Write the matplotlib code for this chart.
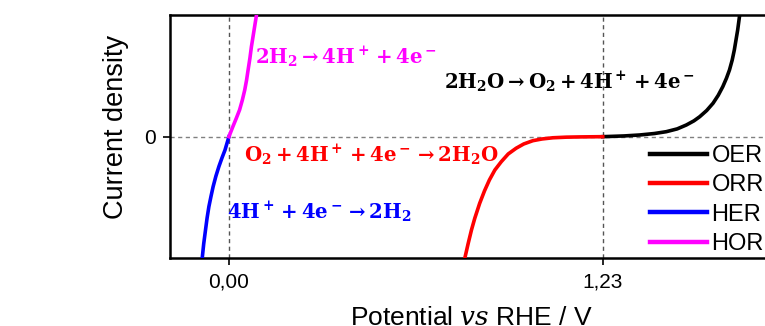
import matplotlib

matplotlib.use("Agg")
import matplotlib.pyplot as plt

plt.rcParams["font.family"] = ["Liberation Sans", "DejaVu Sans"]
plt.rcParams["mathtext.fontset"] = "dejavuserif"

# curves (potential in V, current density normalised to the axis)
her_x = [-0.088, -0.083, -0.077, -0.072, -0.066, -0.059, -0.052, -0.043, -0.033,
         -0.023, -0.013, 0.0]
her_y = [-1.0, -0.88, -0.765, -0.67, -0.575, -0.49, -0.41, -0.325, -0.245,
         -0.175, -0.11, 0.0]

hor_x = [0.0, 0.013, 0.024, 0.035, 0.044, 0.052, 0.058, 0.063, 0.069, 0.074,
         0.082, 0.090]
hor_y = [0.0, 0.083, 0.15, 0.22, 0.30, 0.384, 0.465, 0.548, 0.645, 0.74,
         0.865, 0.99]

orr_x = [0.776, 0.787, 0.798, 0.809, 0.825, 0.841, 0.857, 0.875, 0.896, 0.919,
         0.945, 0.970, 1.000, 1.030, 1.066, 1.11, 1.154, 1.19, 1.23]
orr_y = [-1.0, -0.88, -0.767, -0.67, -0.548, -0.445, -0.356, -0.274, -0.206,
         -0.142, -0.095, -0.06, -0.033, -0.019, -0.009, -0.004, -0.002, -0.001, 0.0]

oer_x = [1.23, 1.30, 1.352, 1.40, 1.439, 1.475, 1.505, 1.53, 1.549, 1.572,
         1.593, 1.61, 1.625, 1.637, 1.647, 1.656, 1.663, 1.674, 1.680]
oer_y = [0.0, 0.006, 0.014, 0.026, 0.041, 0.064, 0.096, 0.13, 0.164, 0.215,
         0.275, 0.34, 0.411, 0.48, 0.548, 0.63, 0.713, 0.877, 0.989]

tick_pos = [0.0, 1.23]
tick_labels = ["0,00", "1,23"]

fig = plt.figure(figsize=(7.65, 3.26), dpi=100)
ax = fig.add_axes([0.2222, 0.2075, 0.812, 0.7465])

ax.axhline(0, color="#808080", linestyle=(0, (3, 2.5)), linewidth=1.0, zorder=1)
for xv in tick_pos:
    ax.axvline(xv, color="#555555", linestyle=(0, (3, 2.5)), linewidth=1.0, zorder=1)

ax.plot(oer_x, oer_y, color="black", linewidth=2.6, label="OER", zorder=3)
ax.plot(orr_x, orr_y, color="#ff0000", linewidth=2.6, label="ORR", zorder=3)
ax.plot(her_x, her_y, color="#0000ff", linewidth=2.6, label="HER", zorder=3)
ax.plot(hor_x, hor_y, color="#ff00ff", linewidth=2.6, label="HOR", zorder=3)

ax.set_xlim(-0.194, 1.85)
ax.set_ylim(-1.0, 1.0)
ax.set_xticks(tick_pos)
ax.set_xticklabels(tick_labels)
ax.set_yticks([0])
ax.set_yticklabels(["0"])
ax.tick_params(labelsize=15, length=5, width=1.2, direction="out", pad=5)
for sp in ax.spines.values():
    sp.set_linewidth(1.8)

ax.set_ylabel("Current density", fontsize=19.5)
ax.yaxis.set_label_coords(-0.066, 0.539)
ax.set_xlabel("Potential $\\it{vs}$ RHE / V", fontsize=19)
ax.xaxis.set_label_coords(0.486, -0.197)

eq = dict(fontsize=14.2, va="center", ha="left")
ax.text(0.0855, 0.656, r"$\mathbf{2H_2 \rightarrow 4H^+ + 4e^-}$", color="#ff00ff", **eq)
ax.text(0.707, 0.45, r"$\mathbf{2H_2O \rightarrow O_2 + 4H^+ + 4e^-}$", color="black", **eq)
ax.text(0.049, -0.148, r"$\mathbf{O_2 + 4H^+ + 4e^- \rightarrow 2H_2O}$", color="#ff0000", **eq)
ax.text(-0.007, -0.615, r"$\mathbf{4H^+ + 4e^- \rightarrow 2H_2}$", color="#0000ff", **eq)

leg = ax.legend(loc="upper left", bbox_to_anchor=(650 / 765, 1 - 145 / 326),
                bbox_transform=fig.transFigure, frameon=False, fontsize=17,
                handlelength=2.4, handletextpad=0.2, labelspacing=0.31,
                borderpad=0, borderaxespad=0)
for line in leg.get_lines():
    line.set_linewidth(3.2)

fig.savefig("out.png", dpi=100)
